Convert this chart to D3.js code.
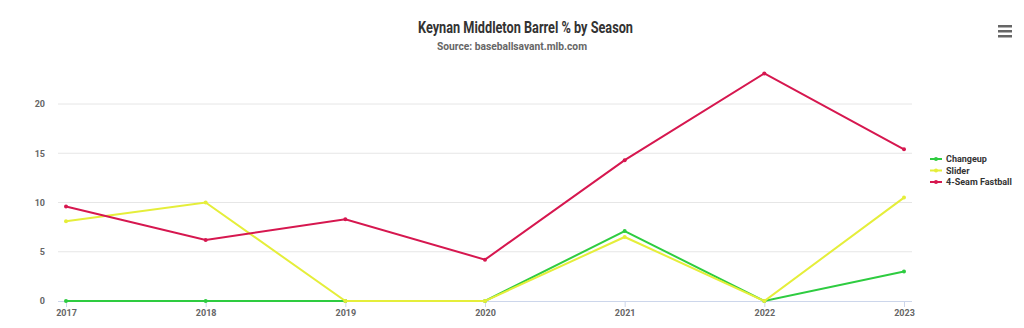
<!DOCTYPE html>
<html><head><meta charset="utf-8">
<script src="https://cdn.jsdelivr.net/npm/d3@7"></script>
<style>
body{margin:0;background:#fff;}
svg{display:block;}
text{font-family:'Roboto',sans-serif;font-weight:bold;}
</style></head><body>
<svg id="c" width="1024" height="328"></svg>
<script>
const seasons = ["2017","2018","2019","2020","2021","2022","2023"];
const changeup = [0, 0, 0, 0, 7.1, 0, 3.0];
const slider = [8.1, 10.0, 0, 0, 6.5, 0, 10.5];
const fastball = [9.6, 6.2, 8.3, 4.2, 14.3, 23.1, 15.4];
const yTicks = [0, 5, 10, 15, 20];
const seriesNames = ["Changeup", "Slider", "4-Seam Fastball"];
const seriesColors = ["#2ecc40", "#e5ee3a", "#d6174f"];
const seriesData = [changeup, slider, fastball];

const FONT = "Roboto, sans-serif";
const svg = d3.select("#c");
const x = d3.scalePoint().domain(seasons).range([66, 904]);
const y = d3.scaleLinear().domain([0, 20]).range([301, 104]);

svg.append("text").attr("x", 525.5).attr("y", 33).attr("text-anchor", "middle")
  .attr("font-size", 16.5).attr("fill", "#333")
  .attr("textLength", 215).attr("lengthAdjust", "spacingAndGlyphs")
  .text("Keynan Middleton Barrel % by Season");
svg.append("text").attr("x", 512).attr("y", 50).attr("text-anchor", "middle")
  .attr("font-size", 10.5).attr("fill", "#666")
  .attr("textLength", 150).attr("lengthAdjust", "spacingAndGlyphs")
  .text("Source: baseballsavant.mlb.com");

// menu icon
[0,5,10].forEach(d => svg.append("rect").attr("x", 998).attr("y", 25 + d).attr("width", 14).attr("height", 2.5).attr("fill", "#666"));

// grid
svg.append("g").selectAll("line").data(yTicks.filter(d => d > 0)).join("line")
  .attr("x1", 58).attr("x2", 912).attr("y1", d => y(d)).attr("y2", d => y(d))
  .attr("stroke", "#e6e6e6").attr("stroke-width", 1);

// y axis labels
const yAxis = d3.axisLeft(y).tickValues(yTicks).tickSize(0).tickPadding(0);
const gy = svg.append("g").attr("transform", "translate(45,0)").call(yAxis);
gy.select(".domain").remove();
gy.selectAll("text").attr("font-size", 9).attr("fill", "#666").attr("dy", "0.32em")
  .style("font-family", FONT).style("font-weight", "bold");

// x axis
const xAxis = d3.axisBottom(x).tickSize(6).tickPadding(3);
const gx = svg.append("g").attr("transform", "translate(0,301)").call(xAxis);
gx.select(".domain").attr("d", "M58,0.5H912").attr("stroke", "#ccd6eb");
gx.selectAll(".tick line").attr("stroke", "#ccd6eb");
gx.selectAll("text").attr("font-size", 9).attr("fill", "#666")
  .style("font-family", FONT).style("font-weight", "bold");

// lines
const line = d3.line().x((d, i) => x(seasons[i])).y(d => y(d));
seriesData.forEach((s, k) => {
  svg.append("path").datum(s).attr("d", line).attr("fill", "none")
    .attr("stroke", seriesColors[k]).attr("stroke-width", 2);
  svg.append("g").selectAll("circle").data(s).join("circle")
    .attr("cx", (d, i) => x(seasons[i])).attr("cy", d => y(d)).attr("r", 2)
    .attr("fill", seriesColors[k]);
});

// legend
const lg = svg.append("g").attr("transform", "translate(930,159)");
seriesNames.forEach((n, k) => {
  const g = lg.append("g").attr("transform", `translate(0,${k * 11.5})`);
  g.append("line").attr("x1", 0).attr("x2", 12).attr("y1", 0).attr("y2", 0)
    .attr("stroke", seriesColors[k]).attr("stroke-width", 2);
  g.append("circle").attr("cx", 6).attr("cy", 0).attr("r", 2).attr("fill", seriesColors[k]);
  g.append("text").attr("x", 16).attr("y", 0).attr("dy", "0.35em").attr("font-size", 9)
    .attr("fill", "#333").text(n);
});
</script>
</body></html>
